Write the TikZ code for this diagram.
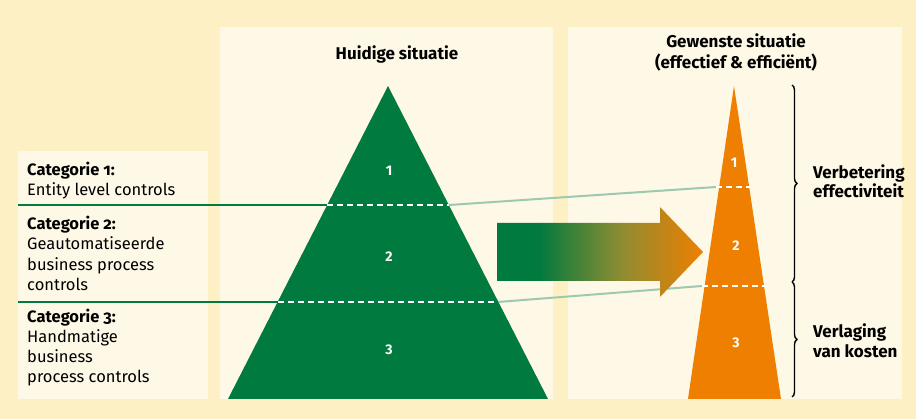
\documentclass[tikz,border=0pt]{standalone}
\usepackage{fontspec}
\setmainfont{Fira Sans}
\usetikzlibrary{decorations.pathreplacing}
\definecolor{outerbg}{HTML}{FDF0C4}
\definecolor{innerbg}{HTML}{FEF8E6}
\definecolor{kgreen}{HTML}{007A3E}
\definecolor{korange}{HTML}{EE7F00}
\definecolor{kmid}{HTML}{8E8C32}
\definecolor{lgreen}{HTML}{9DC9AE}
\pgfdeclarehorizontalshading{greenorange}{100bp}{color(0bp)=(kgreen); color(35bp)=(kgreen); color(55bp)=(kmid); color(75bp)=(korange); color(100bp)=(korange)}
\tikzset{
  panel/.style={fill=innerbg},
  catlabel/.style={anchor=base west, align=left, inner sep=0pt, font=\fontsize{16.5}{20.3}\selectfont\addfontfeatures{Numbers=OldStyle}},
  heading/.style={anchor=base, align=center, inner sep=0pt, font=\fontsize{17}{21}\selectfont\bfseries},
  sidelabel/.style={anchor=base west, align=left, inner sep=0pt, font=\fontsize{17}{19.5}\selectfont\bfseries},
  num/.style={text=white, inner sep=0pt, font=\fontsize{14}{15}\selectfont\bfseries},
  sepline/.style={kgreen, line width=2pt},
  linkline/.style={lgreen, line width=2pt},
  whitedash/.style={white, line width=2pt, dash pattern=on 6pt off 4pt},
  bracestyle/.style={decorate, decoration={brace, amplitude=5pt}, line width=1.4pt, black}
}
\begin{document}
\begin{tikzpicture}[x=1pt,y=-1pt]
\useasboundingbox (0,0) rectangle (916,419);
\fill[outerbg] (0,0) rectangle (916,419);
\fill[panel] (18,151) rectangle (208,399);
\fill[panel] (220,27) rectangle (553,399);
\fill[panel] (568,27) rectangle (902,399);

% coordinates
\coordinate (gA) at (388,86);
\coordinate (gL) at (228,399);
\coordinate (gR) at (548,399);
\coordinate (oA) at (734,86);
\coordinate (oL) at (688,399);
\coordinate (oR) at (781,399);

\coordinate (s1a) at (18,205);
\coordinate (s1b) at (327,205);
\coordinate (s1c) at (449,205);
\coordinate (s2a) at (18,302);
\coordinate (s2b) at (278,302);
\coordinate (s2c) at (498,302);
\coordinate (o1a) at (716,187);
\coordinate (o1b) at (751,187);
\coordinate (o2a) at (702,286);
\coordinate (o2b) at (770,286);

% separator and link lines
\draw[sepline] (s1a) -- (s1b);
\draw[sepline] (s2a) -- (s2b);
\draw[linkline] (s1c) -- (o1a);
\draw[linkline] (s2c) -- (o2a);

% triangles
\fill[kgreen] (gA) -- (gR) -- (gL) -- cycle;
\fill[korange] (oA) -- (oR) -- (oL) -- cycle;

% dashed dividers
\draw[whitedash] (s1b) -- (s1c);
\draw[whitedash] (s2b) -- (s2c);
\draw[whitedash] (o1a) -- (o1b);
\draw[whitedash] (o2a) -- (o2b);

% arrow
\shade[shading=greenorange] (497,223) -- (660,223) -- (660,207) -- (703,252) -- (660,297) -- (660,281) -- (497,281) -- cycle;

% numbers
\node[num] (g1) at (389,171) {1};
\node[num] (g2) at (389,257) {2};
\node[num] (g3) at (389,350) {3};
\node[num] (o1) at (734,163) {1};
\node[num] (o2) at (736,246) {2};
\node[num] (o3) at (736,343) {3};

% headings (base anchor = last line baseline)
\node[heading] (h1) at (397,60) {Huidige situatie};
\node[heading] (h2) at (736,69) {Gewenste situatie\\(effectief \& efficiënt)};

% category labels (base anchor = last line baseline)
\node[catlabel] (c1) at (27,195.5) {\textbf{Categorie 1:}\\Entity level controls};
\node[catlabel] (c2) at (27,290.5) {\textbf{Categorie 2:}\\Geautomatiseerde\\business process\\controls};
\node[catlabel] (c3) at (27,383) {\textbf{Categorie 3:}\\Handmatige\\business\\process controls};

% braces
\coordinate (b1) at (792,85);
\coordinate (b2) at (792,282);
\coordinate (b3) at (792,397);
\draw[bracestyle] (b1) -- (b2);
\draw[bracestyle] (b2) -- (b3);

\node[sidelabel] (r1) at (813,198) {Verbetering\\effectiviteit};
\node[sidelabel] (r2) at (813,357.5) {Verlaging\\van kosten};
\end{tikzpicture}
\end{document}
